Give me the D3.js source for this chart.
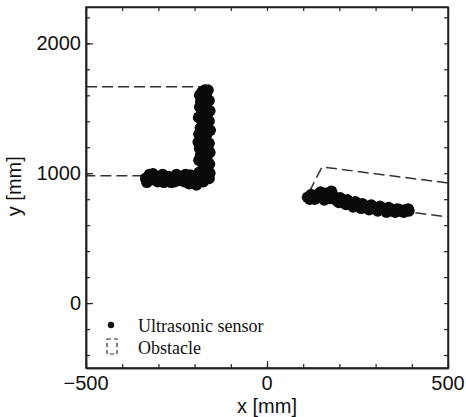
<!DOCTYPE html>
<html>
<head>
<meta charset="utf-8">
<script src="https://cdn.jsdelivr.net/npm/d3@7"></script>
<style>
  body { margin: 0; background: #fff; }
  svg { display: block; }
  .tick-label { font-family: "Liberation Sans", Arial, sans-serif; font-size: 20px; fill: #111; }
  .legend-text { font-family: "Liberation Serif", "Times New Roman", serif; font-size: 18px; fill: #111; }
</style>
</head>
<body>
<div id="app"></div>
<script>
// sensor readings [x, y] in mm
const sensorLeft = [
  [-335, 960], [-332, 930], [-325, 990], [-318, 950], [-310, 975], [-302, 935],
  [-295, 965], [-288, 990], [-280, 945], [-272, 975], [-265, 930], [-258, 960],
  [-250, 990], [-242, 945], [-235, 970], [-228, 935], [-220, 960], [-212, 985],
  [-205, 925], [-200, 955], [-195, 910], [-190, 940], [-315, 995], [-285, 930],
  [-255, 935], [-225, 990], [-215, 920], [-300, 960], [-270, 955], [-240, 960],
  [-185, 960], [-172, 990], [-180, 1020], [-168, 1050], [-178, 1080], [-166, 1110],
  [-183, 1140], [-171, 1170], [-164, 1200], [-190, 1240], [-178, 1260], [-168, 1290],
  [-176, 1320], [-184, 1350], [-170, 1380], [-178, 1410], [-166, 1440], [-180, 1470],
  [-172, 1500], [-168, 1530], [-183, 1550], [-175, 1580], [-168, 1610], [-180, 1625],
  [-172, 1640], [-160, 960], [-158, 1000], [-188, 1005], [-159, 1070], [-188, 1100],
  [-158, 1160], [-186, 1190], [-160, 1230], [-157, 1330], [-188, 1300], [-160, 1400],
  [-189, 1430], [-158, 1480], [-186, 1510], [-160, 1560], [-186, 1600], [-163, 1640],
  [-176, 935]
]
const sensorRight = [
  [112, 815], [122, 835], [132, 800], [142, 840], [152, 820], [162, 845], [172, 805],
  [182, 830], [192, 790], [202, 810], [212, 775], [222, 795], [232, 760], [244, 780],
  [254, 745], [264, 765], [276, 735], [288, 755], [300, 725], [312, 745], [324, 715],
  [336, 735], [348, 710], [360, 725], [372, 705], [384, 720], [392, 710],
  [118, 800], [135, 825], [148, 855], [158, 795], [170, 835], [178, 860], [188, 810],
  [198, 775], [208, 795], [218, 760], [226, 780], [238, 740], [250, 765], [260, 730],
  [270, 750], [282, 720], [294, 740], [306, 710], [318, 730], [330, 700], [342, 725],
  [354, 700], [366, 720], [378, 700], [390, 725]
]
// obstacle outlines (mm)
const obstacleLeft = [[-500, 1665], [-168, 1665], [-168, 980], [-500, 980]]
const obstacleRight = [[500, 925], [152, 1048], [108, 810], [500, 662]]

const xTicks = [-500, 0, 500]
const yTicks = [0, 1000, 2000]
const legendLabels = ['Ultrasonic sensor', 'Obstacle']

const W = 466, H = 417
const mLeft = 86, mRight = 448, mTop = 7, mBottom = 368

const x = d3.scaleLinear().domain([-500, 500]).range([mLeft, mRight])
const y = d3.scaleLinear().domain([-500, 2280]).range([mBottom, mTop])

const svg = d3.select('#app').append('svg')
  .attr('width', W)
  .attr('height', H)

// clip for marks
svg.append('clipPath').attr('id', 'clip')
  .append('rect')
  .attr('x', mLeft).attr('y', mTop)
  .attr('width', mRight - mLeft).attr('height', mBottom - mTop)

const marks = svg.append('g').attr('clip-path', 'url(#clip)')

const line = d3.line().x(d => x(d[0])).y(d => y(d[1]))

marks.selectAll('path.obst')
  .data([obstacleLeft, obstacleRight])
  .enter()
  .append('path')
  .attr('class', 'obst')
  .attr('d', line)
  .attr('fill', 'none')
  .attr('stroke', '#333')
  .attr('stroke-width', 1.5)
  .attr('stroke-dasharray', '11,5')

marks.selectAll('circle.pt')
  .data(sensorLeft.concat(sensorRight))
  .enter()
  .append('circle')
  .attr('class', 'pt')
  .attr('cx', d => x(d[0]))
  .attr('cy', d => y(d[1]))
  .attr('r', 5.8)
  .attr('fill', '#0a0a0a')

// axes, ticks inward
const xMinor = d3.range(-500, 501, 100)
const yMinor = d3.range(-400, 2201, 200)

const bottomAxis = d3.axisBottom(x).tickValues(xMinor).tickSizeInner(-4).tickSizeOuter(0).tickFormat('')
const topAxis = d3.axisTop(x).tickValues(xMinor).tickSizeInner(-4).tickSizeOuter(0).tickFormat('')
const leftAxis = d3.axisLeft(y).tickValues(yMinor).tickSizeInner(-4).tickSizeOuter(0).tickFormat('')
const rightAxis = d3.axisRight(y).tickValues(yMinor).tickSizeInner(-4).tickSizeOuter(0).tickFormat('')

svg.append('g').attr('transform', `translate(0,${mBottom})`).call(bottomAxis)
svg.append('g').attr('transform', `translate(0,${mTop})`).call(topAxis)
svg.append('g').attr('transform', `translate(${mLeft},0)`).call(leftAxis)
svg.append('g').attr('transform', `translate(${mRight},0)`).call(rightAxis)

// major ticks a bit longer
svg.append('g').attr('transform', `translate(0,${mBottom})`)
  .call(d3.axisBottom(x).tickValues(xTicks).tickSizeInner(-7).tickSizeOuter(0).tickFormat(''))
svg.append('g').attr('transform', `translate(${mLeft},0)`)
  .call(d3.axisLeft(y).tickValues(yTicks).tickSizeInner(-7).tickSizeOuter(0).tickFormat(''))

svg.selectAll('.domain').attr('stroke', '#222').attr('stroke-width', 1.5)
svg.selectAll('.tick line').attr('stroke', '#222').attr('stroke-width', 1.2)

// frame
svg.append('rect')
  .attr('x', mLeft).attr('y', mTop)
  .attr('width', mRight - mLeft).attr('height', mBottom - mTop)
  .attr('fill', 'none').attr('stroke', '#222').attr('stroke-width', 1.5)

// tick labels
svg.selectAll('text.xt')
  .data(xTicks)
  .enter()
  .append('text')
  .attr('class', 'tick-label xt')
  .attr('x', d => x(d))
  .attr('y', mBottom + 22)
  .attr('text-anchor', 'middle')
  .text(d => d < 0 ? '\u2212' + Math.abs(d) : d)

svg.selectAll('text.yt')
  .data(yTicks)
  .enter()
  .append('text')
  .attr('class', 'tick-label yt')
  .attr('x', mLeft - 5)
  .attr('y', d => y(d) + 7)
  .attr('text-anchor', 'end')
  .text(d => d)

svg.append('text')
  .attr('class', 'tick-label')
  .attr('x', x(0))
  .attr('y', 413)
  .attr('text-anchor', 'middle')
  .text('x [mm]')

svg.append('text')
  .attr('class', 'tick-label')
  .attr('transform', `translate(21,${y(900)}) rotate(-90)`)
  .attr('text-anchor', 'middle')
  .text('y [mm]')

// legend
const lg = svg.append('g')
lg.append('circle').attr('cx', 111).attr('cy', 325).attr('r', 3.2).attr('fill', '#111')
lg.append('rect')
  .attr('x', 107).attr('y', 339).attr('width', 10).attr('height', 15)
  .attr('fill', 'none').attr('stroke', '#333').attr('stroke-width', 1.2)
  .attr('stroke-dasharray', '4,3')
lg.selectAll('text.lt')
  .data(legendLabels)
  .enter()
  .append('text')
  .attr('class', 'legend-text lt')
  .attr('x', 138)
  .attr('y', (d, i) => 332 + i * 22)
  .text(d => d)
</script>
</body>
</html>
